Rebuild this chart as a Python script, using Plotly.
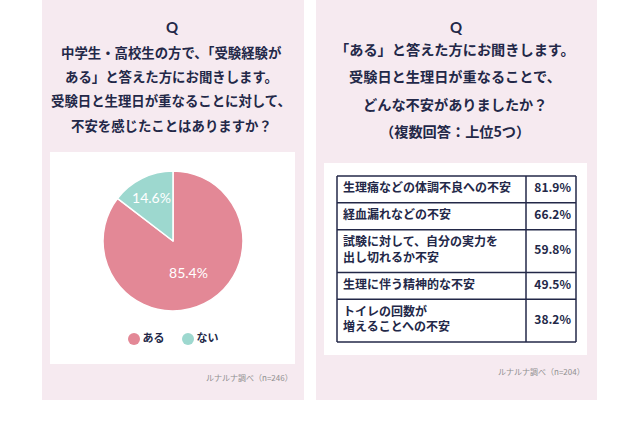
import plotly.graph_objects as go

# pie data (left)
pie_labels = ["ある", "ない"]
pie_values = [85.4, 14.6]
pie_colors = ["#e38896", "#9dd8cf"]

# table data (right)
items = [
    "生理痛などの体調不良への不安",
    "経血漏れなどの不安",
    "試験に対して、自分の実力を<br>出し切れるか不安",
    "生理に伴う精神的な不安",
    "トイレの回数が<br>増えることへの不安",
]
shares = [81.9, 66.2, 59.8, 49.5, 38.2]

q_left = ["中学生・高校生の方で、「受験経験が", "ある」と答えた方にお聞きします。",
          "受験日と生理日が重なることに対して、", "不安を感じたことはありますか？"]
q_right = ["「ある」と答えた方にお聞きします。", "受験日と生理日が重なることで、",
           "どんな不安がありましたか？", "（複数回答：上位5つ）"]

W, H = 640, 426
NAVY = "#232848"
JP = "Noto Sans CJK JP"


def px(x):
    return x / W


def py(y):
    return 1 - y / H


fig = go.Figure()

fig.add_trace(go.Pie(
    labels=pie_labels, values=pie_values, sort=False, direction="clockwise",
    marker=dict(colors=pie_colors, line=dict(color="white", width=1.5)),
    texttemplate="%{value:.1f}%", textposition="inside",
    textfont=dict(color="white", size=14, family="Lato"),
    insidetextorientation="horizontal",
    domain=dict(x=[px(103), px(243)], y=[py(311), py(171)]),
    showlegend=False, hoverinfo="label+percent",
))

# legend row under the pie: round markers with labels, one step per entry
fig.add_trace(go.Scatter(
    x=list(range(len(pie_labels))), y=[0] * len(pie_labels), mode="markers+text",
    text=[f"<b>{t}</b>" for t in pie_labels], textposition="middle right",
    textfont=dict(family=JP, size=11, color=NAVY),
    marker=dict(color=pie_colors, size=12, symbol="circle"),
    showlegend=False, hoverinfo="skip", cliponaxis=False,
))

# table built on its own axes: row heights follow the number of text lines
TW, DIV = 239, 189
heights = [27 + 16 * t.count("<br>") for t in items]
bounds = [0]
for h in heights:
    bounds.append(bounds[-1] + h)
mids = [(a + b) / 2 for a, b in zip(bounds[:-1], bounds[1:])]

gx, gy = [], []
for b in bounds:
    gx += [0, TW, None]
    gy += [b, b, None]
for x in [0, DIV, TW]:
    gx += [x, x, None]
    gy += [0, bounds[-1], None]

fig.add_trace(go.Scatter(x=gx, y=gy, mode="lines", line=dict(color=NAVY, width=1.5),
                         xaxis="x2", yaxis="y2", showlegend=False, hoverinfo="skip"))
fig.add_trace(go.Scatter(x=[6] * len(items), y=mids, mode="text", text=[f"<b>{t}</b>" for t in items],
                         textposition="middle right", textfont=dict(family=JP, size=12, color=NAVY),
                         xaxis="x2", yaxis="y2", showlegend=False, hoverinfo="skip"))
fig.add_trace(go.Scatter(x=[TW - 5] * len(shares), y=mids, mode="text",
                         text=[f"<b>{v:.1f}%</b>" for v in shares],
                         textposition="middle left", textfont=dict(family=JP, size=12, color=NAVY),
                         xaxis="x2", yaxis="y2", showlegend=False, hoverinfo="skip"))

shapes = [
    # pink panels
    dict(x0=42, x1=304, y0=400, y1=0, fillcolor="#f6eaf0"),
    dict(x0=316, x1=597, y0=400, y1=0, fillcolor="#f6eaf0"),
    # white boxes
    dict(x0=50, x1=295, y0=364, y1=152, fillcolor="white"),
    dict(x0=324, x1=587, y0=355, y1=163, fillcolor="white"),
]
for s in shapes:
    s.update(type="rect", xref="paper", yref="paper", line_width=0, layer="below",
             x0=px(s["x0"]), x1=px(s["x1"]), y0=py(s["y0"]), y1=py(s["y1"]))

annotations = [
    dict(x=px(172), y=py(27), text="<b>Q</b>", font=dict(family="Lato", size=15, color=NAVY)),
    dict(x=px(456), y=py(27), text="<b>Q</b>", font=dict(family="Lato", size=15, color=NAVY)),
    dict(x=px(295), y=py(377), xanchor="right", text="ルナルナ調べ（n=246）",
         font=dict(family=JP, size=8, color="#8f8f8f")),
    dict(x=px(587), y=py(371), xanchor="right", text="ルナルナ調べ（n=204）",
         font=dict(family=JP, size=8, color="#8f8f8f")),
]
for i, line in enumerate(q_left):
    annotations.append(dict(x=px(171), y=py(52 + 24.2 * i), text=f"<b>{line}</b>",
                            font=dict(family=JP, size=13.4, color=NAVY)))
for i, line in enumerate(q_right):
    annotations.append(dict(x=px(455), y=py(49 + 27.3 * i), text=f"<b>{line}</b>",
                            font=dict(family=JP, size=14.2, color=NAVY)))
for a in annotations:
    a.setdefault("xanchor", "center")
    a.update(xref="paper", yref="paper", yanchor="middle", showarrow=False)

fig.update_layout(
    width=W, height=H, margin=dict(l=0, r=0, t=0, b=0),
    paper_bgcolor="white", plot_bgcolor="rgba(0,0,0,0)", showlegend=False,
    # legend axis: 54 px between entries, first marker at x=134
    xaxis=dict(visible=False, domain=[px(124), px(224)], range=[-10 / 54, 90 / 54], fixedrange=True),
    yaxis=dict(visible=False, domain=[py(349), py(329)], range=[-1, 1], fixedrange=True),
    xaxis2=dict(visible=False, domain=[px(336), px(577)], range=[-1, TW + 1], anchor="y2"),
    yaxis2=dict(visible=False, domain=[py(343), py(175)], range=[bounds[-1] + 1, -1], anchor="x2"),
    shapes=shapes, annotations=annotations,
)

fig.write_html("out.html", config={"displayModeBar": False},
               post_script="document.body.style.margin='0';")
